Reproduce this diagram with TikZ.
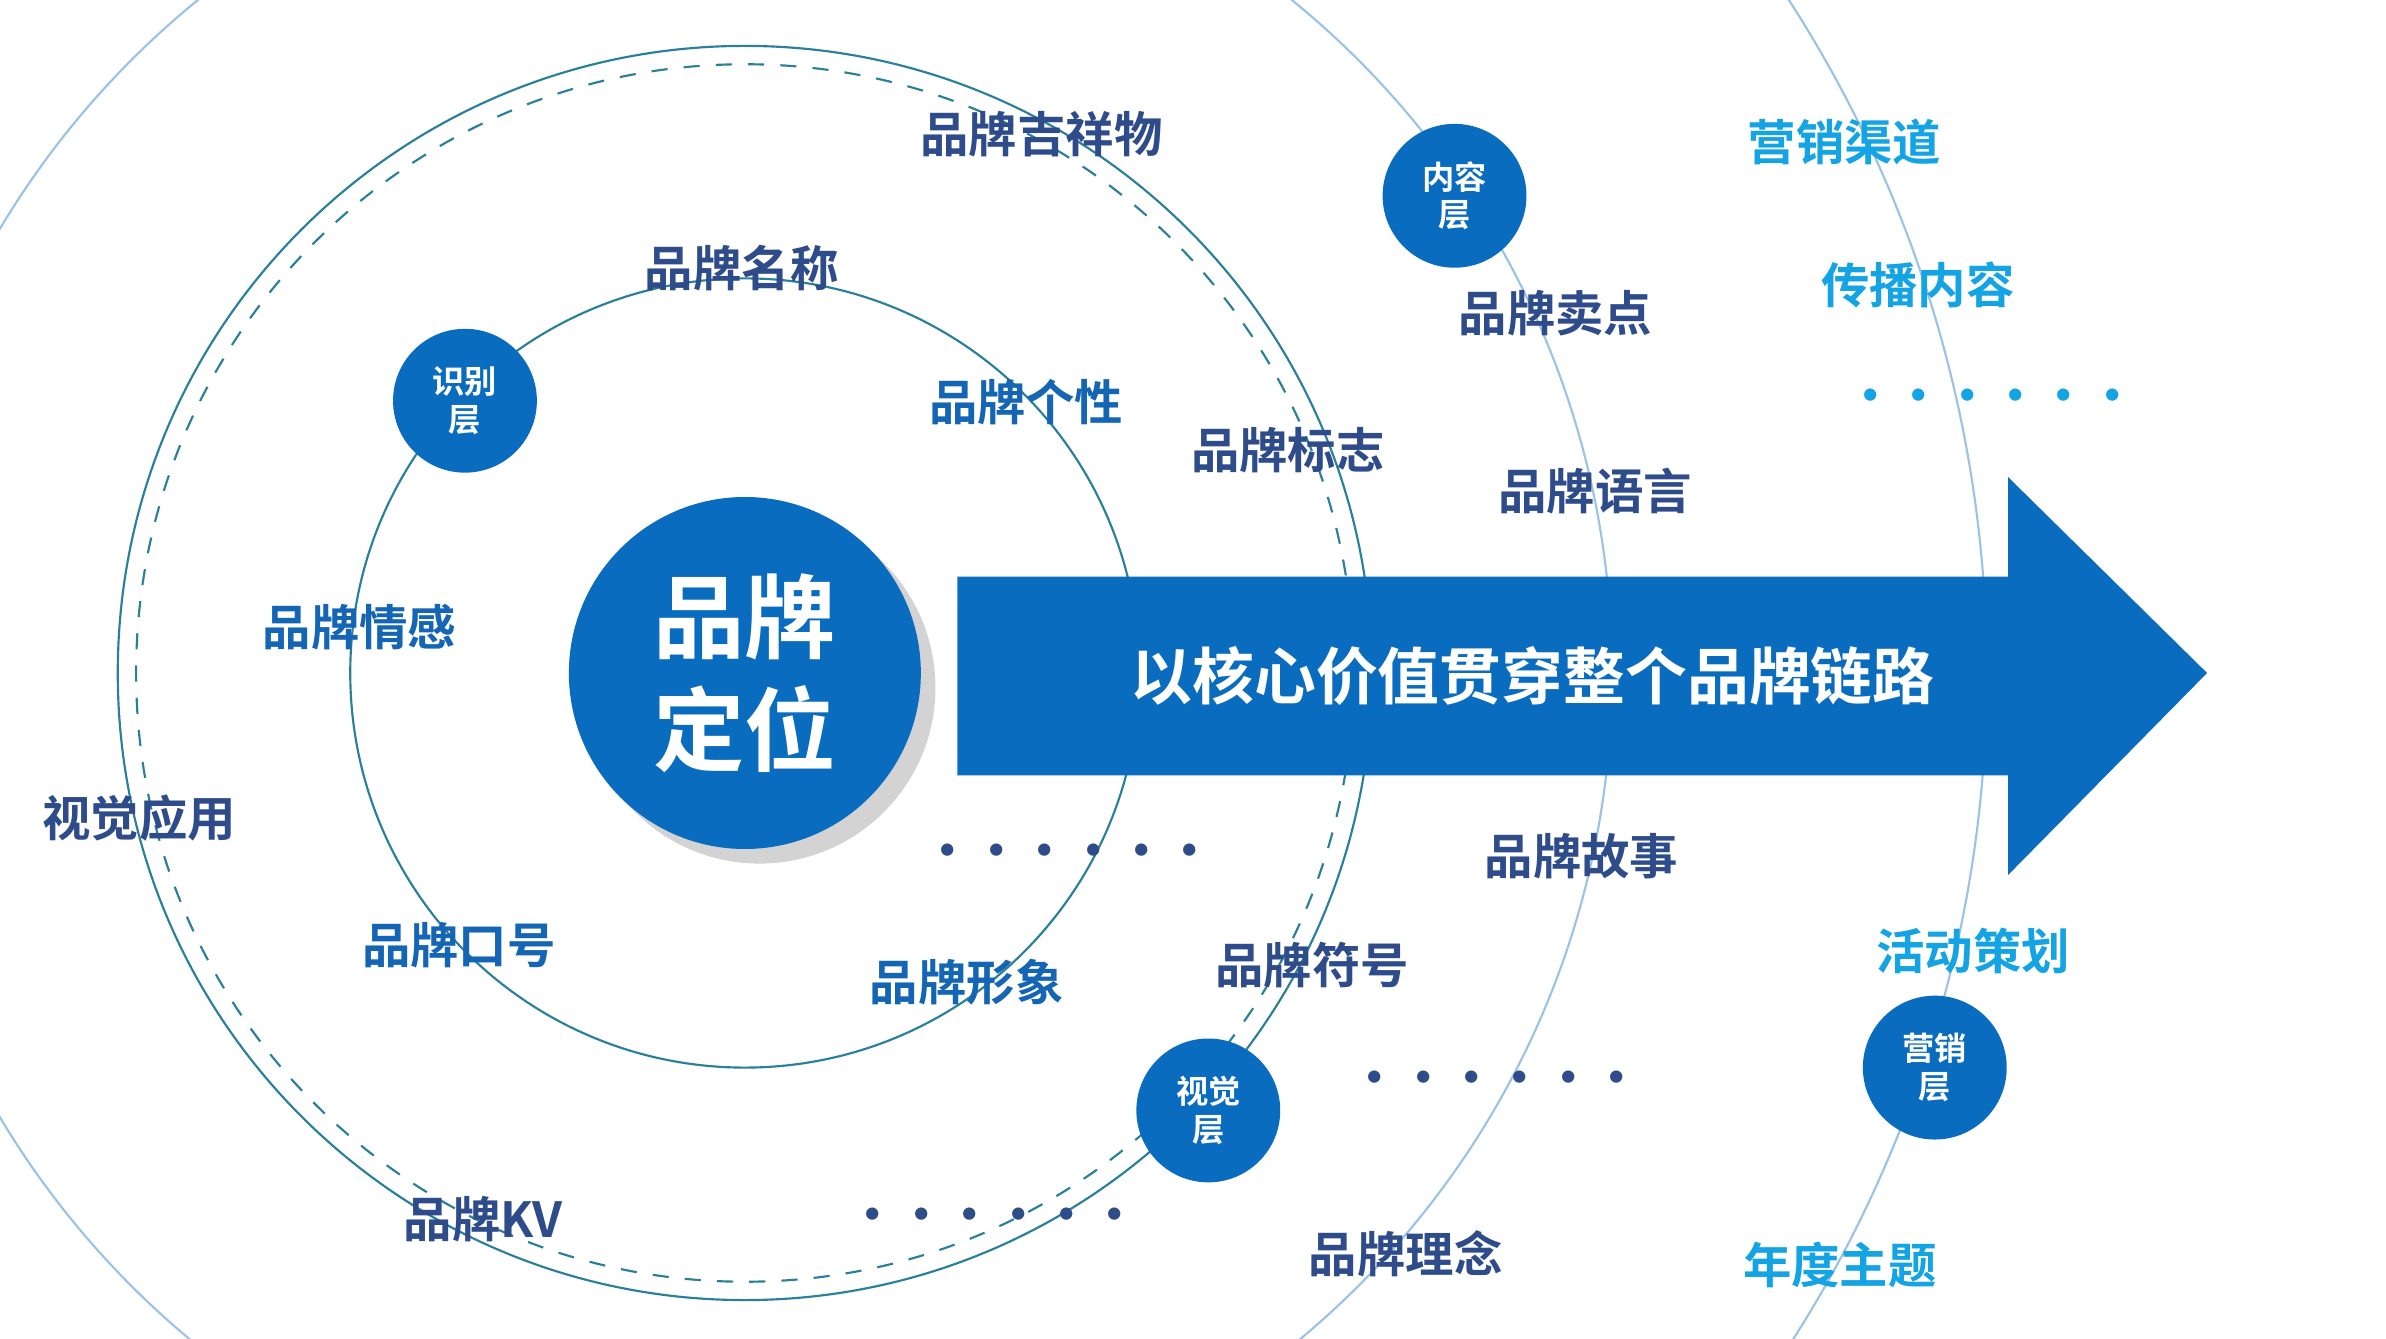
\documentclass[tikz,border=0pt]{standalone}
\usepackage{fontspec}
\setmainfont{Noto Sans CJK SC}[BoldFont={* Bold}]
\usetikzlibrary{shadows}
\definecolor{mainblue}{HTML}{0A6CBF}
\definecolor{navy}{HTML}{2E4B8A}
\definecolor{midblue}{HTML}{1565B5}
\definecolor{skyblue}{HTML}{14A3E3}
\definecolor{ringteal}{HTML}{2A7F9A}
\definecolor{ringlight}{HTML}{9CC3E6}
\tikzset{
  layer/.style={circle, fill=mainblue, minimum size=0.94cm, inner sep=0pt, text=white,
    font=\fontsize{6}{7}\selectfont\bfseries, align=center},
  navylbl/.style={text=navy, font=\fontsize{9}{10}\selectfont\bfseries},
  bluelbl/.style={text=midblue, font=\fontsize{9}{10}\selectfont\bfseries},
  skylbl/.style={text=skyblue, font=\fontsize{9}{10}\selectfont\bfseries},
}
\begin{document}
\begin{tikzpicture}[x=0.01cm, y=-0.01cm]
    \useasboundingbox (0,0) rectangle (1560,875);
    \begin{scope}
        \clip (0,0) rectangle (1560,875);
        \draw[ringlight, thin] (487,440) circle (567);
        \draw[ringlight, thin] (487,440) circle (812);
    \end{scope}
    \draw[ringteal, thin] (487,440) circle (258);
    \draw[ringteal, thin, dashed] (487,440) circle (398);
    \draw[ringteal, thin] (487,440) circle (410);

    % arrow
    \fill[mainblue] (626,377) -- (1313,377) -- (1313,312) -- (1443,440)
        -- (1313,572) -- (1313,507) -- (626,507) -- cycle;
    \node[text=white, font=\fontsize{11.5}{13}\selectfont\bfseries] (chain) at (1002,442) {以核心价值贯穿整个品牌链路};

    \node[circle, fill=mainblue, minimum size=2.3cm, drop shadow={opacity=0.35}, text=white,
        font=\fontsize{17}{21}\selectfont\bfseries, align=center] (core) at (487,440) {品牌\\定位};

    \node[layer] (ident) at (304,262) {识别\\层};
    \node[layer] (content) at (951,128) {内容\\层};
    \node[layer] (visual) at (790,726) {视觉\\层};
    \node[layer] (market) at (1265,698) {营销\\层};

    \node[navylbl] (mascot) at (681,88) {品牌吉祥物};
    \node[navylbl] (name) at (485,175) {品牌名称};
    \node[bluelbl] (persona) at (671,263) {品牌个性};
    \node[navylbl] (logo) at (842,294) {品牌标志};
    \node[bluelbl] (emotion) at (235,410) {品牌情感};
    \node[navylbl] (vapp) at (91,535) {视觉应用};
    \node[navylbl] (dotsa) at (699,560) {••••••};
    \node[bluelbl] (slogan) at (300,618) {品牌口号};
    \node[bluelbl] (image) at (632,642) {品牌形象};
    \node[navylbl] (symbol) at (858,631) {品牌符号};
    \node[navylbl] (kv) at (316,797) {品牌KV};
    \node[navylbl] (dotsb) at (650,798) {••••••};

    \node[navylbl] (selling) at (1017,205) {品牌卖点};
    \node[navylbl] (lang) at (1043,321) {品牌语言};
    \node[navylbl] (story) at (1034,560) {品牌故事};
    \node[navylbl] (dotsc) at (978,708) {••••••};
    \node[navylbl] (idea) at (919,820) {品牌理念};

    \node[skylbl] (channel) at (1206,93) {营销渠道};
    \node[skylbl] (spread) at (1254,186) {传播内容};
    \node[skylbl] (dotsd) at (1302,262) {••••••};
    \node[skylbl] (event) at (1290,622) {活动策划};
    \node[skylbl] (theme) at (1203,827) {年度主题};
\end{tikzpicture}
\end{document}
